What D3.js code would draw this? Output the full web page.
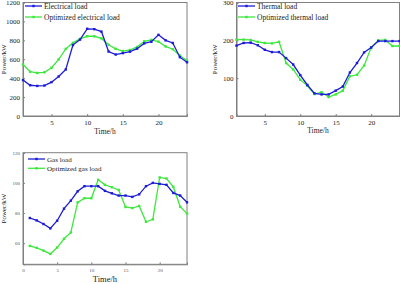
<!DOCTYPE html>
<html><head><meta charset="utf-8">
<script src="https://cdn.jsdelivr.net/npm/d3@7"></script>
<style>
body{margin:0;background:#fff;}
svg{display:block;font-family:"Liberation Serif","Times New Roman",serif;}
</style></head>
<body><svg id="c" width="400" height="284"></svg>
<script>
const hours = d3.range(1, 25);
const elecLoad = [380,325,318,322,358,418,492,750,808,922,918,892,682,650,665,680,712,768,785,858,800,772,622,568];
const elecOpt  = [545,468,455,462,510,598,710,773,815,843,843,820,753,710,687,698,730,790,805,786,735,706,640,585];
const thermLoad = [186,193,194,187,175,169,169,153,136,108,82,60,57,57,67,78,115,140,168,181,198,198,198,198];
const thermOpt  = [202,202,201,196,193,192,196,140,123,96,80,58,63,50,57,67,105,109,133,181,200,201,185,185];
const gasLoad = [76.7,75.1,72.7,69.8,74.9,82.9,88.2,94.4,97.8,97.8,97.8,94.7,93.1,91.6,91.6,90.7,92.4,97.8,100,99.3,98.7,93.3,91.6,87.1];
const gasOpt  = [58.2,56.9,55.1,52.9,57.1,62.9,67.1,87.1,89.8,89.8,102,98.7,97.1,95.3,84,83.3,84.7,74.2,75.8,103.6,102.9,97.3,84.2,79.6];
const elecTicksY = [0,200,400,600,800,1000,1200];
const thermTicksY = [0,100,200,300];
const gasTicksY = [60,80,100,120];
const ticksX = [5,10,15,20];
const gasTicksX = [0,5,10,15,20];

const BLUE = "#1c1cd8", GREEN = "#3de83d", AX = "#808080";
const svg = d3.select("#c");

function panel(o){
  const g = svg.append("g");
  const x = d3.scaleLinear().domain(o.xd).range([o.l, o.r]);
  const y = d3.scaleLinear().domain(o.yd).range([o.b, o.t]);
  g.append("rect").attr("x", o.l).attr("y", o.t).attr("width", o.r-o.l).attr("height", o.b-o.t)
    .attr("fill","none").attr("stroke",AX).attr("stroke-width",1);
  const xa = g.append("g").attr("transform",`translate(0,${o.b})`)
    .call(d3.axisBottom(x).tickValues(o.xt).tickSize(-2).tickPadding(4).tickFormat(d3.format("d")));
  const ya = g.append("g").attr("transform",`translate(${o.l},0)`)
    .call(d3.axisLeft(y).tickValues(o.yt).tickSize(-2).tickPadding(3).tickFormat(d3.format("d")));
  [xa,ya].forEach(a=>{
    a.select(".domain").attr("stroke",AX);
    a.selectAll(".tick line").attr("stroke",AX);
    a.selectAll("text").attr("font-family","Liberation Serif").attr("font-size",o.tf).attr("fill",o.tc);
  });
  g.append("text").attr("x",(o.l+o.r)/2).attr("y",o.xly).attr("text-anchor","middle")
    .attr("font-size",o.xlf).attr("fill","#222").text("Time/h");
  g.append("text").attr("transform",`translate(${o.ylx},${(o.t+o.b)/2}) rotate(-90)`)
    .attr("text-anchor","middle").attr("font-size",o.ylf).attr("fill","#222").text("Power/kW");
  const line = d3.line().x((d,i)=>x(hours[i])).y(d=>y(d));
  [[o.s2,GREEN],[o.s1,BLUE]].forEach(([s,c])=>{
    g.append("path").datum(s).attr("d",line).attr("fill","none").attr("stroke",c).attr("stroke-width",1.3);
    g.selectAll(null).data(s).enter().append("rect")
      .attr("x",(d,i)=>x(hours[i])-1.2).attr("y",d=>y(d)-1.2).attr("width",2.4).attr("height",2.4).attr("fill",c);
  });
  [[o.n1,BLUE,o.ly1],[o.n2,GREEN,o.ly2]].forEach(([n,c,ly])=>{
    g.append("line").attr("x1",o.lx).attr("x2",o.lx+17).attr("y1",ly).attr("y2",ly).attr("stroke",c).attr("stroke-width",1.3);
    g.append("rect").attr("x",o.lx+8.5-1.2).attr("y",ly-1.2).attr("width",2.4).attr("height",2.4).attr("fill",c);
    g.append("text").attr("x",o.lx+19).attr("y",ly+2.6).attr("font-size",o.lf).attr("fill","#222").text(n);
  });
}

panel({l:23,r:187,t:2.5,b:116,xd:[1,24],yd:[0,1200],xt:ticksX,yt:elecTicksY,s1:elecLoad,s2:elecOpt,
  n1:"Electrical load",n2:"Optimized electrical load",lx:25,ly1:6,ly2:17,lf:7.5,tf:7,tc:"#222",
  xly:134,xlf:7.5,ylx:6,ylf:7});
panel({l:236.5,r:399.5,t:2.5,b:116,xd:[1,24],yd:[0,300],xt:ticksX,yt:thermTicksY,s1:thermLoad,s2:thermOpt,
  n1:"Thermal load",n2:"Optimized thermal load",lx:238,ly1:6,ly2:17,lf:7.5,tf:7,tc:"#222",
  xly:133,xlf:7.5,ylx:217,ylf:7});
panel({l:23,r:187,t:152.7,b:264.3,xd:[0,24],yd:[46,120],xt:gasTicksX,yt:gasTicksY,s1:gasLoad,s2:gasOpt,
  n1:"Gas load",n2:"Optimized gas load",lx:28,ly1:159,ly2:168.3,lf:7,tf:5,tc:"#555",
  xly:282,xlf:8.5,ylx:6,ylf:7});
</script></body></html>
